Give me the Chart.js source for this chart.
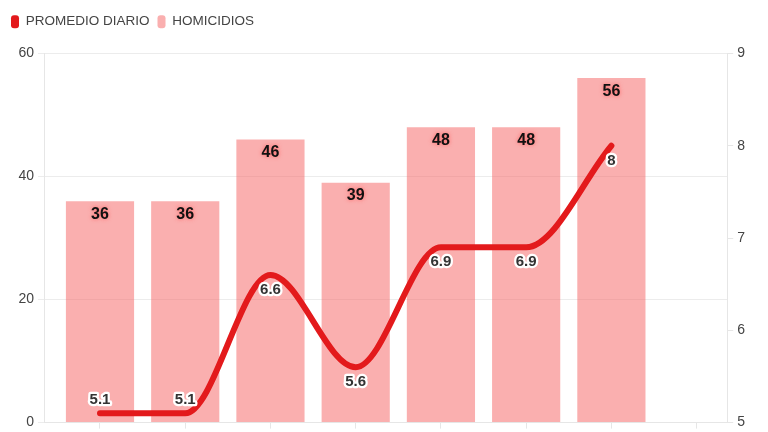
<!DOCTYPE html>
<html>
<head>
<meta charset="utf-8">
<script src="https://cdn.jsdelivr.net/npm/chart.js@4"></script>
<style>
  html, body { margin: 0; padding: 0; background: #fff; overflow: hidden; }
  #wrap { width: 768px; height: 462px; }
</style>
</head>
<body>
<div id="wrap"><canvas id="chart"></canvas></div>
<script>
// weekly data (last slot is empty)
const semanas = ["01/10 - 07/10", "08/10 - 14/10", "15/10 - 21/10", "22/10 - 28/10",
                 "29/10 - 04/11", "05/11 - 11/11", "12/11 - 18/11", "19/11 - 25/11"];
const homicidios = [36, 36, 46, 39, 48, 48, 56, null];
const promedioDiario = [5.1, 5.1, 6.6, 5.6, 6.9, 6.9, 8, null];

const ROJO = "#e31a1c";
const ROSA = "rgba(246, 110, 110, 0.55)";
const FONT = "'Liberation Sans', Arial, sans-serif";

// draws the value labels on bars and on the line
const etiquetas = {
    id: "etiquetas",
    afterDatasetsDraw(chart) {
        const ctx = chart.ctx;
        const area = chart.chartArea;
        ctx.save();
        ctx.textAlign = "center";
        ctx.textBaseline = "middle";
        ctx.lineJoin = "round";

        // bars
        const barMeta = chart.getDatasetMeta(1);
        barMeta.data.forEach((bar, i) => {
            const v = homicidios[i];
            if (v == null) return;
            ctx.font = "bold 16px " + FONT;
            ctx.shadowColor = "rgba(255, 90, 90, 0.9)";
            ctx.shadowBlur = 4;
            ctx.fillStyle = "#111";
            ctx.fillText(String(v), bar.x, bar.y + 13);
        });
        ctx.shadowBlur = 0;
        ctx.shadowColor = "transparent";

        // line
        const lineMeta = chart.getDatasetMeta(0);
        lineMeta.data.forEach((pt, i) => {
            const v = promedioDiario[i];
            if (v == null) return;
            let y = pt.y + 15;
            if (y > area.bottom - 8) y = pt.y - 14;
            ctx.font = "bold 15px " + FONT;
            ctx.lineWidth = 4.5;
            ctx.strokeStyle = "#fff";
            ctx.strokeText(String(v), pt.x, y);
            ctx.fillStyle = "#333";
            ctx.fillText(String(v), pt.x, y);
        });
        ctx.restore();
    }
};

// a bit of space under the legend
const legendMargin = {
    id: "legendMargin",
    beforeInit(chart) {
        const fit = chart.legend.fit;
        chart.legend.fit = function () {
            fit.bind(chart.legend)();
            this.height += 15;
        };
    }
};

Chart.defaults.font.family = FONT;
Chart.defaults.color = "#444";

new Chart(document.getElementById("chart"), {
    data: {
        datasets: [
            {
                type: "line",
                label: "PROMEDIO DIARIO",
                data: promedioDiario.map((v, i) => ({ x: i, y: v })),
                yAxisID: "y1",
                borderColor: ROJO,
                backgroundColor: ROJO,
                borderWidth: 6,
                borderCapStyle: "round",
                borderJoinStyle: "round",
                cubicInterpolationMode: "monotone",
                pointRadius: 0,
                spanGaps: false
            },
            {
                type: "bar",
                label: "HOMICIDIOS",
                data: homicidios.map((v, i) => ({ x: i, y: v })),
                yAxisID: "y",
                backgroundColor: ROSA,
                borderWidth: 0,
                barPercentage: 1,
                categoryPercentage: 0.8
            }
        ]
    },
    options: {
        responsive: true,
        maintainAspectRatio: false,
        animation: false,
        layout: { padding: { left: 3, right: 19, top: 7, bottom: 13 } },
        plugins: {
            legend: {
                align: "start",
                labels: {
                    boxWidth: 8,
                    boxHeight: 13,
                    useBorderRadius: true,
                    borderRadius: 3,
                    padding: 8,
                    font: { size: 13.5 },
                    color: "#444",
                    generateLabels(chart) {
                        const items = Chart.defaults.plugins.legend.labels.generateLabels(chart);
                        items.forEach(it => { it.lineWidth = 0; it.strokeStyle = "rgba(0,0,0,0)"; });
                        return items;
                    }
                }
            },
            tooltip: { enabled: false }
        },
        scales: {
            x: {
                type: "linear",
                offset: false,
                min: -0.657,
                max: 7.359,
                grid: { drawOnChartArea: false, offset: false, color: "#e6e6e6", tickLength: 6 },
                border: { color: "#e6e6e6" },
                ticks: {
                    stepSize: 1,
                    includeBounds: false,
                    autoSkip: false,
                    maxRotation: 0,
                    font: { size: 12 },
                    callback: (v) => semanas[v] || ""
                }
            },
            y: {
                position: "left",
                min: 0,
                max: 60,
                afterFit: (scale) => { scale.width = 41; },
                grid: { color: "#ececec", tickLength: 6 },
                border: { color: "#e6e6e6" },
                ticks: { stepSize: 20, font: { size: 14 }, padding: 4 }
            },
            y1: {
                position: "right",
                min: 5,
                max: 9,
                grid: { drawOnChartArea: false, color: "#e6e6e6", tickLength: 6 },
                border: { color: "#e6e6e6" },
                ticks: { stepSize: 1, font: { size: 14 }, padding: 4 }
            }
        }
    },
    plugins: [etiquetas, legendMargin]
});
</script>
</body>
</html>
